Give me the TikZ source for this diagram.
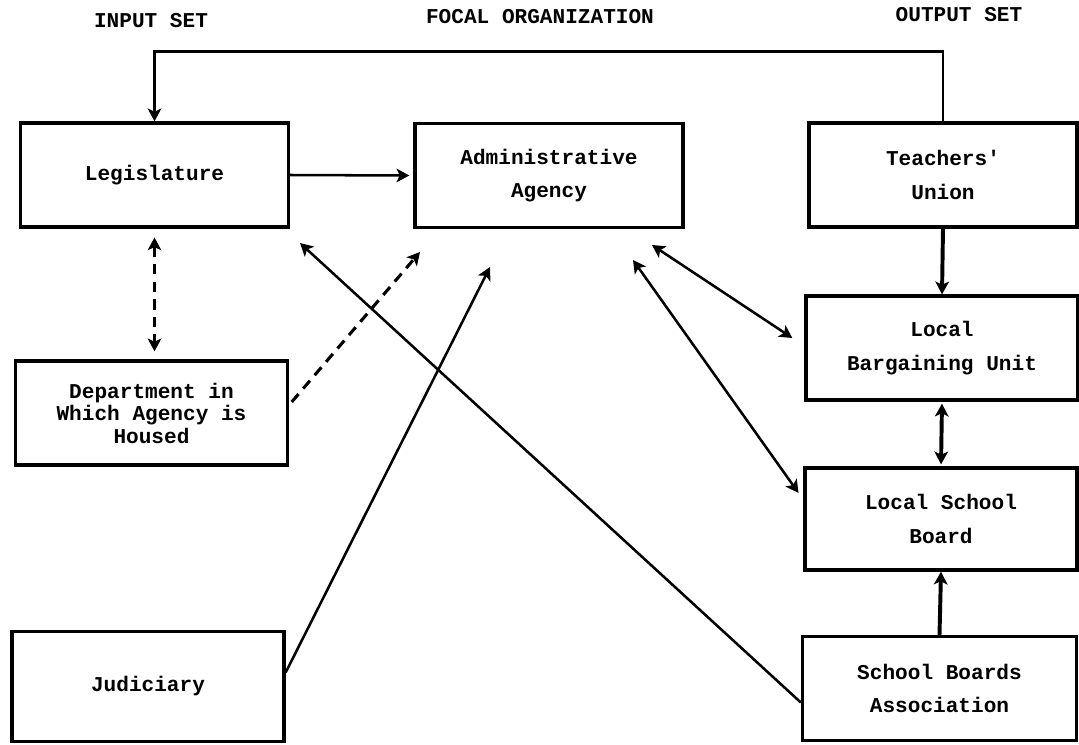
\documentclass[tikz,border=0pt]{standalone}
\usepackage{fontspec}
\setmainfont{Liberation Mono}[Ligatures=TeXOff]
\usetikzlibrary{arrows.meta}
\begin{document}
\begin{tikzpicture}[x=0.025cm, y=-0.025cm,
  box/.style={draw, line width=2.3pt, align=center, minimum width=6.7cm, minimum height=2.6cm,
    font=\bfseries\fontsize{15}{24}\selectfont},
  title/.style={font=\bfseries\fontsize{15}{18}\selectfont},
  tip/.style={-{Stealth[length=0.32cm, width=0.34cm, inset=0.08cm]}},
  tips/.style={{Stealth[length=0.32cm, width=0.34cm, inset=0.08cm]}-{Stealth[length=0.32cm, width=0.34cm, inset=0.08cm]}},
  link/.style={line width=1.8pt},
  heavy/.style={line width=2.8pt},
  dashlink/.style={line width=2.2pt, dash pattern=on 0.26cm off 0.18cm}]
  \useasboundingbox (0,0) rectangle (1079,744);

  % Headings
  \node[title] (inTitle) at (151,21) {INPUT SET};
  \node[title] (focTitle) at (540,17) {FOCAL ORGANIZATION};
  \node[title] (outTitle) at (959,15) {OUTPUT SET};

  % Boxes
  \node[box] (Leg) at (154.5,175) {Legislature};
  \node[box] (Agency) at (549,175.5) {Administrative\\Agency};
  \node[box] (Union) at (943,175) {Teachers'\\Union};
  \node[box, minimum width=6.8cm, font=\bfseries\fontsize{15}{16}\selectfont] (Dept) at (151.5,413) {Department in\\Which Agency is\\Housed};
  \node[box, minimum width=6.8cm] (LBU) at (942,348) {Local\\Bargaining Unit};
  \node[box, minimum width=6.8cm, minimum height=2.55cm] (LSB) at (941,519) {Local School\\Board};
  \node[box, minimum width=6.8cm, minimum height=2.75cm] (Jud) at (148,686.5) {Judiciary};
  \node[box, minimum width=6.85cm] (SBA) at (939.5,688.5) {School Boards\\Association};

  % Free arrow ends
  \coordinate (legTip) at (300,243);
  \coordinate (dashTip) at (420,252);
  \coordinate (judTip) at (490,267);
  \coordinate (agTipA) at (652,245);
  \coordinate (agTipB) at (633,260);

  % Connectors
  \draw[link, tip] (Union.north) -- ++(0,-70) -| (Leg.north);
  \draw[link, tip] (Leg.east) -- ([xshift=-0.1cm]Agency.west);
  \draw[dashlink, tips, shorten <=0.22cm, shorten >=0.2cm] (Leg.south) -- (Leg.south |- Dept.north);
  \draw[dashlink, tip, shorten <=0.1cm] ([yshift=0.2cm]Dept.east) -- (dashTip);
  \draw[link, tip] ([yshift=-0.35cm]SBA.west) -- (legTip);
  \draw[link, tip] ([yshift=0.35cm]Jud.east) -- (judTip);
  \draw[link, tips] (agTipA) -- ([xshift=-0.3cm, yshift=0.25cm]LBU.west);
  \draw[link, tips] (agTipB) -- ([xshift=-0.12cm, yshift=0.65cm]LSB.west);
  \draw[heavy, tip] (Union.south) -- (LBU.north);
  \draw[heavy, tips, shorten <=0.05cm, shorten >=0.05cm] (LBU.south) -- (LSB.north);
  \draw[heavy, tip] (SBA.north) -- (LSB.south);
\end{tikzpicture}
\end{document}
